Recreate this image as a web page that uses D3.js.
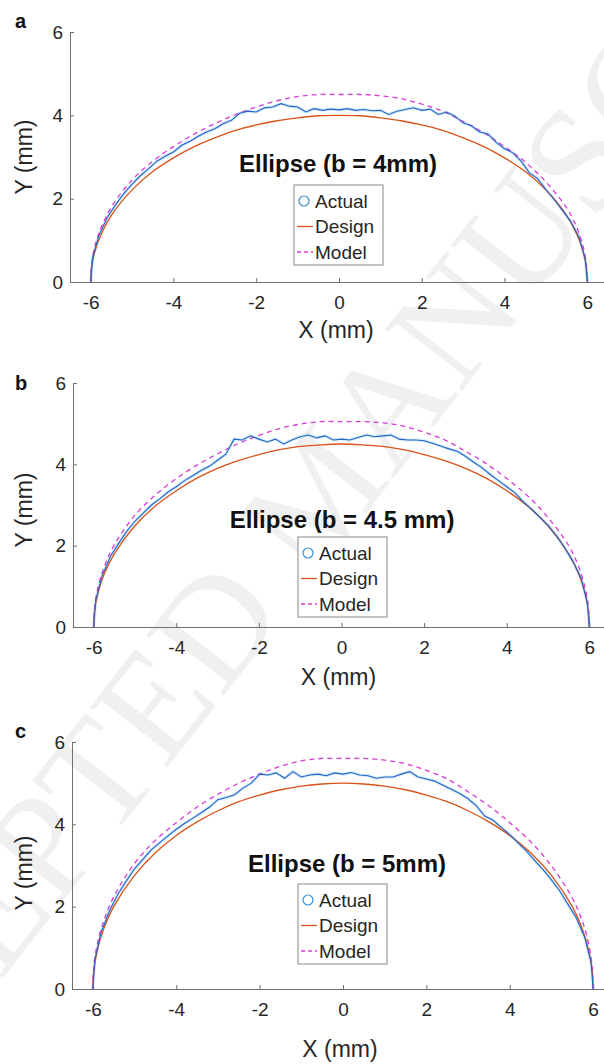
<!DOCTYPE html>
<html>
<head>
<meta charset="utf-8">
<script src="https://cdn.jsdelivr.net/npm/d3@7"></script>
<style>
  body { margin: 0; background: #fff; }
  svg { display: block; font-family: "Liberation Sans", Arial, Helvetica, sans-serif; }
</style>
</head>
<body>
<svg width="604" height="1064"></svg>
<script>
// ---- data ----
const xTicks = [-6, -4, -2, 0, 2, 4, 6];
const yTicks = [0, 2, 4, 6];
const panelLabels = ["a", "b", "c"];
const titles = ["Ellipse (b = 4mm)", "Ellipse (b = 4.5 mm)", "Ellipse (b = 5mm)"];
const legendLabels = ["Actual", "Design", "Model"];

// x positions shared by design + model curves
const curveX = [-6, -5.98, -5.9, -5.75, -5.5, -5, -4.5, -4, -3.5, -3, -2.5, -2, -1.5, -1, -0.5,
  0, 0.5, 1, 1.5, 2, 2.5, 3, 3.5, 4, 4.5, 5, 5.5, 5.75, 5.9, 5.98, 6];

const designA = [0, 0.33, 0.73, 1.14, 1.60, 2.21, 2.65, 2.98, 3.25, 3.46, 3.64, 3.77, 3.87, 3.94, 3.99,
  4.00, 3.99, 3.94, 3.87, 3.77, 3.64, 3.46, 3.25, 2.98, 2.65, 2.21, 1.60, 1.14, 0.73, 0.33, 0];
const designB = [0, 0.37, 0.82, 1.29, 1.80, 2.49, 2.98, 3.35, 3.66, 3.90, 4.09, 4.24, 4.36, 4.44, 4.48,
  4.50, 4.48, 4.44, 4.36, 4.24, 4.09, 3.90, 3.66, 3.35, 2.98, 2.49, 1.80, 1.29, 0.82, 0.37, 0];
const designC = [0, 0.41, 0.91, 1.43, 2.00, 2.76, 3.31, 3.73, 4.06, 4.33, 4.55, 4.71, 4.84, 4.93, 4.98,
  5.00, 4.98, 4.93, 4.84, 4.71, 4.55, 4.33, 4.06, 3.73, 3.31, 2.76, 2.00, 1.43, 0.91, 0.41, 0];

const modelA = [0, 0.4, 0.85, 1.3, 1.8, 2.45, 2.9, 3.25, 3.55, 3.8, 4.02, 4.2, 4.35, 4.45, 4.5,
  4.5, 4.5, 4.47, 4.4, 4.27, 4.1, 3.85, 3.58, 3.25, 2.88, 2.4, 1.78, 1.3, 0.85, 0.4, 0];
const modelB = [0, 0.45, 0.95, 1.46, 2.02, 2.75, 3.25, 3.65, 3.98, 4.26, 4.51, 4.71, 4.88, 4.99, 5.05,
  5.05, 5.05, 5.02, 4.94, 4.79, 4.6, 4.32, 4.02, 3.65, 3.23, 2.69, 2.0, 1.46, 0.95, 0.45, 0];
const modelC = [0, 0.5, 1.06, 1.62, 2.24, 3.05, 3.61, 4.04, 4.42, 4.73, 5.0, 5.22, 5.41, 5.54, 5.6,
  5.6, 5.6, 5.56, 5.47, 5.31, 5.1, 4.79, 4.45, 4.04, 3.58, 2.99, 2.21, 1.62, 1.06, 0.5, 0];

// measured profile, sampled every 0.2 mm
const actualX = [-6, -5.95, -5.8, -5.6, -5.4, -5.2, -5, -4.8, -4.6, -4.4, -4.2, -4, -3.8, -3.6, -3.4, -3.2,
  -3, -2.8, -2.6, -2.4, -2.2, -2, -1.8, -1.6, -1.4, -1.2, -1, -0.8, -0.6, -0.4, -0.2,
  0, 0.2, 0.4, 0.6, 0.8, 1, 1.2, 1.4, 1.6, 1.8, 2, 2.2, 2.4, 2.6, 2.8,
  3, 3.2, 3.4, 3.6, 3.8, 4, 4.2, 4.4, 4.6, 4.8, 5, 5.2, 5.4, 5.6, 5.8, 5.95, 6];

const actualA = [0, 0.6, 1.12, 1.55, 1.85, 2.12, 2.35, 2.55, 2.72, 2.9, 3.02, 3.12, 3.28, 3.38, 3.5, 3.6,
  3.68, 3.8, 3.88, 4.05, 4.1, 4.08, 4.18, 4.2, 4.28, 4.22, 4.2, 4.08, 4.16, 4.12, 4.15,
  4.13, 4.16, 4.12, 4.14, 4.11, 4.12, 4.02, 4.1, 4.14, 4.18, 4.12, 4.15, 4.02, 4.08, 3.98,
  3.82, 3.75, 3.6, 3.55, 3.35, 3.2, 3.1, 2.9, 2.62, 2.48, 2.22, 1.98, 1.72, 1.45, 1.08, 0.55, 0];
const actualB = [0, 0.65, 1.25, 1.72, 2.05, 2.35, 2.6, 2.8, 3.0, 3.15, 3.32, 3.45, 3.6, 3.72, 3.85, 3.95,
  4.1, 4.25, 4.62, 4.6, 4.7, 4.62, 4.55, 4.62, 4.5, 4.6, 4.68, 4.72, 4.65, 4.7, 4.6,
  4.62, 4.6, 4.66, 4.72, 4.68, 4.7, 4.72, 4.62, 4.6, 4.6, 4.58, 4.52, 4.45, 4.38, 4.32,
  4.2, 4.05, 3.92, 3.75, 3.6, 3.45, 3.3, 3.08, 2.9, 2.7, 2.5, 2.25, 1.95, 1.62, 1.2, 0.6, 0];
const actualC = [0, 0.72, 1.38, 1.9, 2.3, 2.62, 2.92, 3.15, 3.38, 3.55, 3.72, 3.88, 4.02, 4.15, 4.28, 4.42,
  4.6, 4.65, 4.72, 4.88, 5.0, 5.22, 5.2, 5.25, 5.12, 5.28, 5.15, 5.2, 5.22, 5.18, 5.25,
  5.22, 5.26, 5.2, 5.18, 5.12, 5.15, 5.15, 5.22, 5.28, 5.15, 5.1, 5.05, 4.95, 4.85, 4.75,
  4.62, 4.45, 4.2, 4.1, 3.92, 3.75, 3.55, 3.35, 3.12, 2.9, 2.65, 2.38, 2.05, 1.72, 1.25, 0.65, 0];

// ---- layout (pixel positions of each panel) ----
const layout = [
  { left: 70, right: 608, bottom: 282, top: 32, labelY: 28, titleX: 338, titleY: 172, legX: 294, legY: 185, yLabY: 157, xLabY: 338 },
  { left: 73, right: 610, bottom: 627, top: 383, labelY: 390, titleX: 342, titleY: 528, legX: 298, legY: 537, yLabY: 510, xLabY: 685 },
  { left: 72, right: 614, bottom: 989, top: 742, labelY: 738, titleX: 347, titleY: 872, legX: 298, legY: 884, yLabY: 873, xLabY: 1057 }
];
const designs = [designA, designB, designC];
const models = [modelA, modelB, modelC];
const actuals = [actualA, actualB, actualC];

const colActual = "#2a62c4", colActualHalo = "#8fd2ef";
const colDesign = "#d95319";
const colModel = "#d83cd8";
const axisCol = "#707070", textCol = "#262626";

const svg = d3.select("svg");

// faint watermark behind everything
svg.append("text")
  .attr("transform", "translate(318,492) rotate(-52)")
  .attr("text-anchor", "middle")
  .attr("dominant-baseline", "central")
  .attr("font-family", "'Liberation Serif', 'DejaVu Serif', serif")
  .attr("font-size", 150)
  .attr("fill", "#f0f0f0")
  .text("ACCEPTED MANUSCRIPT");

layout.forEach((L, i) => {
  const g = svg.append("g");
  const x = d3.scaleLinear().domain([-6.5, 6.5]).range([L.left, L.right]);
  const y = d3.scaleLinear().domain([0, 6]).range([L.bottom, L.top]);

  // axes (matlab style, ticks pointing in, plain hyphen minus)
  const xAxis = g.append("g")
    .attr("transform", `translate(0,${L.bottom})`)
    .call(d3.axisBottom(x).tickValues(xTicks).tickFormat(d => String(d))
      .tickSizeInner(-4).tickSizeOuter(0).tickPadding(14));
  const yAxis = g.append("g")
    .attr("transform", `translate(${L.left},0)`)
    .call(d3.axisLeft(y).tickValues(yTicks).tickFormat(d => String(d))
      .tickSizeInner(-4).tickSizeOuter(0).tickPadding(7));
  [xAxis, yAxis].forEach(a => {
    a.select(".domain").attr("stroke", axisCol);
    a.selectAll(".tick line").attr("stroke", axisCol);
    a.selectAll(".tick text").attr("fill", textCol).attr("font-size", 19)
      .attr("font-family", "'Liberation Sans', Arial, sans-serif");
  });

  const smooth = d3.line().x(d => x(d[0])).y(d => y(d[1])).curve(d3.curveCatmullRom.alpha(0.5));
  const jagged = d3.line().x(d => x(d[0])).y(d => y(d[1]));

  const designPts = curveX.map((v, k) => [v, designs[i][k]]);
  const modelPts = curveX.map((v, k) => [v, models[i][k]]);
  const actualPts = actualX.map((v, k) => [v, actuals[i][k]]);

  g.append("path").datum(actualPts).attr("d", jagged)
    .attr("fill", "none").attr("stroke", colActualHalo).attr("stroke-width", 3).attr("stroke-opacity", 0.45);
  g.append("path").datum(designPts).attr("d", smooth)
    .attr("fill", "none").attr("stroke", colDesign).attr("stroke-width", 1.3);
  g.append("path").datum(modelPts).attr("d", smooth)
    .attr("fill", "none").attr("stroke", colModel).attr("stroke-width", 1.3).attr("stroke-dasharray", "5,4");
  g.append("path").datum(actualPts).attr("d", jagged)
    .attr("fill", "none").attr("stroke", colActual).attr("stroke-width", 1.1);

  // labels
  g.append("text").attr("x", 15).attr("y", L.labelY)
    .attr("font-weight", "bold").attr("font-size", 20).attr("fill", "#111").text(panelLabels[i]);
  g.append("text").attr("x", x(0) - 3).attr("y", L.xLabY).attr("text-anchor", "middle")
    .attr("font-size", 23).attr("fill", textCol).text("X (mm)");
  g.append("text").attr("transform", `translate(24,${L.yLabY}) rotate(-90)`)
    .attr("text-anchor", "middle").attr("dy", "0.35em")
    .attr("font-size", 23).attr("fill", textCol).text("Y (mm)");
  g.append("text").attr("x", L.titleX).attr("y", L.titleY).attr("text-anchor", "middle")
    .attr("font-weight", "bold").attr("font-size", 24).attr("fill", "#111").text(titles[i]);

  // legend
  const lg = g.append("g").attr("transform", `translate(${L.legX},${L.legY})`);
  lg.append("rect").attr("width", 89).attr("height", 80)
    .attr("fill", "#fff").attr("stroke", "#8a8a8a").attr("stroke-width", 1);
  legendLabels.forEach((name, k) => {
    const cy = 16 + k * 25.5;
    if (k === 0) {
      lg.append("circle").attr("cx", 10).attr("cy", cy).attr("r", 5)
        .attr("fill", "none").attr("stroke", "#3a8fd0").attr("stroke-width", 1.2);
    } else {
      lg.append("line").attr("x1", 3).attr("x2", 19).attr("y1", cy).attr("y2", cy)
        .attr("stroke", k === 1 ? colDesign : colModel).attr("stroke-width", 1.3)
        .attr("stroke-dasharray", k === 2 ? "4,3" : null);
    }
    lg.append("text").attr("x", 21).attr("y", cy).attr("dy", "0.35em")
      .attr("font-size", 19).attr("fill", textCol).text(name);
  });
});
</script>
</body>
</html>
